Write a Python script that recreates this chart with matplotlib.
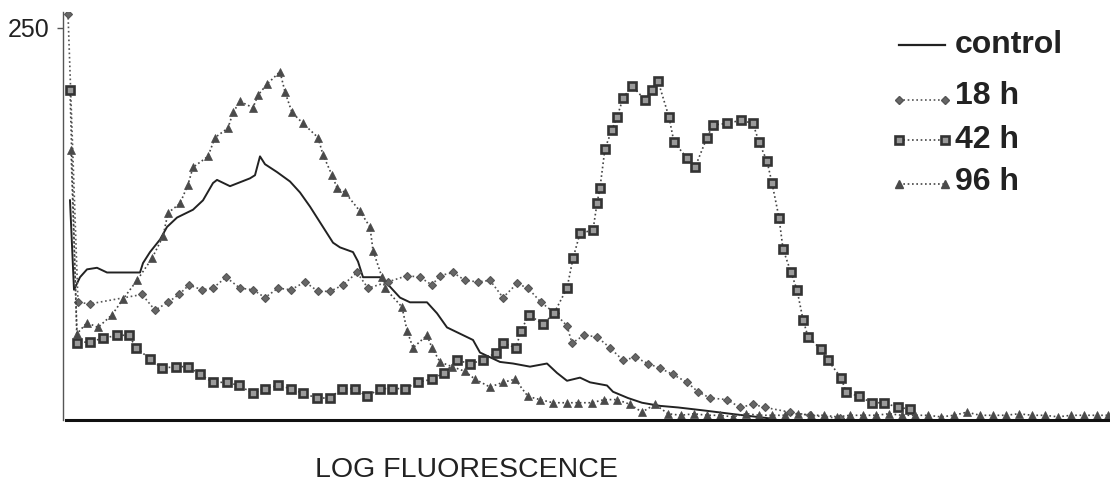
import matplotlib
matplotlib.use("Agg")
import matplotlib.pyplot as plt

plt.rcParams["font.family"] = ["Liberation Sans", "DejaVu Sans"]

# channel positions / counts
control_x = [4, 8, 14, 21, 31, 41, 51, 64, 74, 77, 84, 94, 101, 111, 127, 137, 147, 151, 164, 184,
             189, 194, 199, 211, 224, 234, 244, 257, 267, 274, 287, 292, 297, 314, 321, 334, 344, 361, 371, 381,
             394, 407, 414, 434, 447, 464, 481, 491, 501, 514, 524, 541, 547, 562, 576, 594, 612, 639, 664, 704]
control_y = [140, 83, 91, 96, 97, 94, 94, 94, 94, 100, 107, 115, 123, 129, 134, 140, 151, 153, 149, 154,
             156, 168, 163, 158, 152, 145, 136, 123, 113, 110, 107, 101, 91, 91, 87, 78, 75, 75, 68, 59,
             55, 51, 43, 37, 36, 34, 36, 30, 25, 27, 24, 22, 18, 14, 11, 9, 8, 6, 4, 1]

h18_x = [2, 12, 24, 76, 89, 102, 113, 123, 136, 147, 160, 174, 187, 199, 212, 225, 239, 252, 264, 277,
         291, 302, 322, 341, 354, 366, 374, 387, 399, 412, 424, 437, 451, 462, 475, 489, 501, 506, 518, 531,
         544, 557, 569, 582, 594, 607, 621, 632, 644, 661, 674, 687, 699, 724, 744, 774]
h18_y = [259, 75, 74, 80, 70, 75, 80, 86, 83, 84, 91, 84, 83, 78, 84, 83, 88, 82, 82, 86,
         94, 84, 88, 92, 91, 86, 92, 94, 89, 88, 89, 78, 87, 84, 75, 68, 60, 49, 54, 53,
         46, 38, 40, 36, 33, 29, 24, 18, 14, 13, 8, 10, 8, 5, 3, 1]

h42_x = [4, 11, 24, 37, 51, 63, 70, 84, 96, 110, 122, 134, 147, 161, 173, 187, 199, 212, 225, 237,
         251, 264, 276, 289, 301, 314, 326, 339, 352, 366, 378, 391, 404, 417, 430, 437, 450, 455, 463, 477,
         488, 501, 507, 514, 527, 531, 534, 539, 546, 551, 557, 566, 579, 586, 592, 603, 608, 621, 629, 641,
         647, 661, 675, 687, 693, 701, 706, 713, 717, 725, 731, 737, 742, 755, 762, 775, 780, 793, 806, 818,
         832, 844]
h42_y = [210, 49, 50, 52, 54, 54, 46, 39, 33, 34, 34, 29, 24, 24, 22, 17, 20, 22, 20, 17,
         14, 14, 20, 20, 15, 20, 20, 20, 24, 26, 30, 38, 36, 38, 43, 49, 46, 57, 67, 61,
         68, 84, 103, 119, 121, 138, 148, 173, 185, 193, 205, 213, 204, 210, 216, 193, 177, 167, 161, 180,
         188, 189, 191, 189, 177, 165, 151, 129, 109, 94, 83, 64, 53, 45, 38, 27, 18, 15, 11, 11,
         8, 7]

h96_x = [5, 11, 21, 32, 46, 57, 71, 86, 97, 102, 114, 122, 127, 142, 149, 162, 167, 174, 187, 192,
         201, 214, 219, 226, 237, 252, 257, 266, 271, 279, 294, 304, 307, 316, 319, 336, 341, 347, 361, 366,
         374, 386, 399, 409, 424, 437, 449, 462, 474, 487, 501, 512, 526, 538, 551, 564, 576, 589, 602,
         615, 628, 641, 654, 667, 680, 693, 706, 719, 732, 745, 758, 771, 784, 797, 810, 823, 836, 849, 862,
         875, 888, 901, 914, 927, 940, 953, 966, 979, 992, 1005, 1018, 1031, 1042]
h96_y = [172, 55, 62, 59, 67, 77, 89, 103, 117, 132, 138, 150, 161, 168, 180, 186, 196, 203, 199, 207,
         214, 222, 209, 196, 189, 180, 169, 156, 148, 145, 133, 123, 108, 91, 84, 72, 57, 46, 54, 46,
         37, 34, 31, 26, 21, 24, 26, 15, 13, 11, 11, 11, 11, 13, 13, 10, 5, 10, 4,
         3, 4, 3, 3, 2, 4, 3, 3, 3, 4, 3, 3, 2, 3, 3, 3, 4, 3, 3, 3,
         2, 3, 5, 3, 3, 3, 4, 3, 3, 2, 3, 3, 3, 3]

fig = plt.figure(figsize=(11.1, 4.91), dpi=100)
ax = fig.add_axes([63 / 1110, 71 / 491, 1 - 63 / 1110, 408 / 491])

dot = (0, (1, 1.6))
ax.plot(control_x, control_y, color="#222222", lw=1.4)
ax.plot(h18_x, h18_y, color="#555555", ls=dot, lw=1.2,
        marker="D", ms=3.6, mfc="#666666", mec="#555555", mew=0.8)
ax.plot(h42_x, h42_y, color="#444444", ls=dot, lw=1.2,
        marker="s", ms=5.2, mfc="#9a9a9a", mec="#333333", mew=1.9)
ax.plot(h96_x, h96_y, color="#444444", ls=dot, lw=1.2,
        marker="^", ms=6.3, mfc="#4a4a4a", mec="#4a4a4a", mew=0.5)

ax.set_xlim(-3, 1044)
ax.set_ylim(0, 260)
for s in ["top", "right"]:
    ax.spines[s].set_visible(False)
ax.spines["left"].set_color("#555555")
ax.spines["left"].set_linewidth(1.0)
ax.spines["bottom"].set_color("#111111")
ax.spines["bottom"].set_linewidth(2.2)
ax.spines["bottom"].set_bounds(0, 1044)
ax.set_xticks([])
ax.set_yticks([250])
ax.set_yticklabels(["250"])
ax.tick_params(axis="y", length=4, width=1, color="#555555", pad=6,
               labelsize=18, labelcolor="#222222")
ax.patch.set_alpha(0)

fig.text(466 / 1110, 1 - 470 / 491, "LOG FLUORESCENCE", ha="center", va="center",
         fontsize=20.5, color="#222222")

# legend drawn by hand in pixel space
lax = fig.add_axes([0, 0, 1, 1])
lax.set_xlim(0, 1110)
lax.set_ylim(491, 0)
lax.axis("off")
labels = ["control", "18 h", "42 h", "96 h"]
rows = [45, 100, 140, 184]
text_rows = [45, 96, 140, 182]
styles = [
    dict(color="#222222", lw=1.6),
    dict(color="#555555", ls=dot, lw=1.2, marker="D", ms=3.6, mfc="#666666", mec="#555555"),
    dict(color="#444444", ls=dot, lw=1.2, marker="s", ms=5.2, mfc="#9a9a9a", mec="#333333", mew=1.9),
    dict(color="#444444", ls=dot, lw=1.2, marker="^", ms=6.3, mfc="#4a4a4a", mec="#4a4a4a"),
]
for lab, y, ty, st in zip(labels, rows, text_rows, styles):
    lax.plot([899, 945], [y, y], **st)
    lax.text(955, ty, lab, ha="left", va="center", fontsize=23, fontweight="bold",
             color="#222222")

fig.savefig("out.png", dpi=100)
